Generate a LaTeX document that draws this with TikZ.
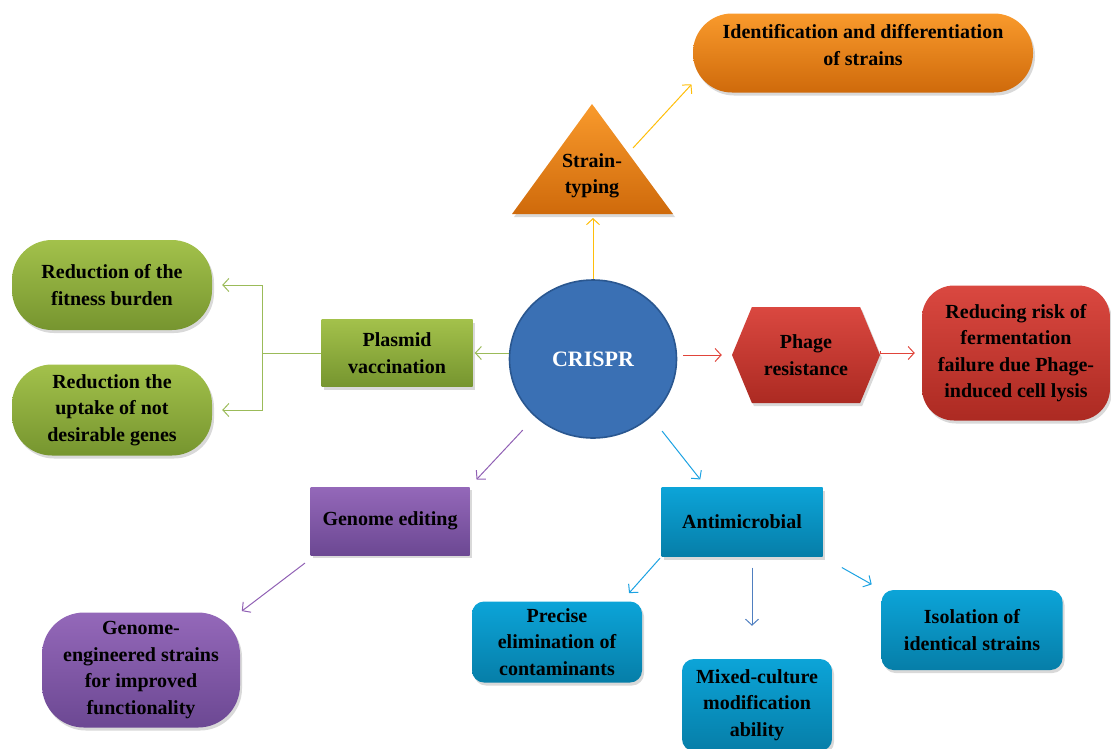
\documentclass[tikz,border=0pt]{standalone}
\usepackage{fontspec}
\setmainfont{Liberation Serif}
\usetikzlibrary{
		calc,
		positioning,
		arrows.meta,
		shapes.geometric,
		shapes.symbols,
		shadows
	}
\definecolor{orTop}{HTML}{F99A2C}
\definecolor{orBot}{HTML}{CF6A0B}
\definecolor{grTop}{HTML}{A3C14B}
\definecolor{grBot}{HTML}{76952F}
\definecolor{rdTop}{HTML}{DA4840}
\definecolor{rdBot}{HTML}{AC2A22}
\definecolor{puTop}{HTML}{9468B9}
\definecolor{puBot}{HTML}{6C4893}
\definecolor{cyTop}{HTML}{0CA4D8}
\definecolor{cyBot}{HTML}{067EA8}
\definecolor{hubFill}{HTML}{3A70B4}
\definecolor{hubLine}{HTML}{2A5790}
\definecolor{lnYellow}{HTML}{FFBE0A}
\definecolor{lnGreen}{HTML}{9BBB59}
\definecolor{lnRed}{HTML}{E0443A}
\definecolor{lnPurple}{HTML}{9060B4}
\definecolor{lnCyan}{HTML}{1CA2E2}
\definecolor{lnBlue}{HTML}{4F7FC0}
\tikzset{
		>={Straight Barb[length=6pt,width=13pt]},
		lbl/.style={font=\bfseries\fontsize{20}{26.5}\selectfont, align=center, text=black},
		card/.style 2 args={lbl, top color=#1, bottom color=#2, draw=none,
			drop shadow={shadow xshift=2pt, shadow yshift=-3pt, opacity=.3}},
		hub/.style={ellipse, fill=hubFill, draw=hubLine, line width=1.6pt,
			minimum width=167pt, minimum height=158pt,
			font=\bfseries\fontsize{22}{26}\selectfont, text=white},
		link/.style={->, line width=1pt}
	}

\begin{document}
\begin{tikzpicture}[x=1pt, y=-1pt] % y runs downwards, one unit = one pixel of the layout
	\useasboundingbox (0,0) rectangle (1111,748);
	% centre
	\node[hub] (crispr) at (593,359) {CRISPR};
	% strain typing (top)
	\path[card={orTop}{orBot}] (512,214) -- (592,104) -- (673,214) -- cycle;
	\node[lbl] (strain) at (592,176) {Strain-\\typing};
	\coordinate (strainbase) at (593,214);
	\coordinate (strainside) at (633,148);
	\node[card={orTop}{orBot}, rounded corners=39pt, minimum width=340pt, minimum height=79pt, text depth=16pt]
		(ident) at (863,53) {Identification and differentiation\\of strains};
	% plasmid vaccination (left)
	\node[card={grTop}{grBot}, minimum width=151pt, minimum height=67pt]
		(plasmid) at (397,353) {Plasmid\\vaccination};
	\node[card={grTop}{grBot}, rounded corners=40pt, minimum width=200pt, minimum height=90pt]
		(fitness) at (112,285) {Reduction of the\\fitness burden};
	\node[card={grTop}{grBot}, rounded corners=40pt, minimum width=200pt, minimum height=91pt, inner sep=1pt]
		(uptake) at (112,410) {Reduction the\\uptake of not\\desirable genes};
	\coordinate (fork) at (262,353);
	% phage resistance (right)
	\node[card={rdTop}{rdBot}, signal, signal to=east and west, signal pointer angle=135,
		minimum width=148pt, minimum height=96pt, inner xsep=1pt]
		(phage) at (806,355) {Phage\\resistance};
	\node[card={rdTop}{rdBot}, rounded corners=32pt, minimum width=188pt, minimum height=135pt]
		(lysis) at (1016,353) {Reducing risk of\\fermentation\\failure due Phage-\\induced cell lysis};
	% genome editing (lower left)
	\node[card={puTop}{puBot}, minimum width=159pt, minimum height=68pt]
		(genome) at (390,521) {Genome editing};
	\node[card={puTop}{puBot}, rounded corners=42pt, minimum width=198pt, minimum height=115pt, inner sep=1pt]
		(engineered) at (141,670) {Genome-\\engineered strains\\for improved\\functionality};
	% antimicrobial (lower right)
	\node[card={cyTop}{cyBot}, minimum width=161pt, minimum height=69pt]
		(antimic) at (742,522) {Antimicrobial};
	\node[card={cyTop}{cyBot}, rounded corners=12pt, minimum width=170pt, minimum height=81pt, inner sep=0pt]
		(precise) at (557,642) {Precise\\elimination of\\contaminants};
	\node[card={cyTop}{cyBot}, rounded corners=12pt, minimum width=150pt, minimum height=92pt, inner sep=0pt]
		(mixed) at (757,705) {Mixed-culture\\modification\\ability};
	\node[card={cyTop}{cyBot}, rounded corners=12pt, minimum width=181pt, minimum height=80pt]
		(isolation) at (972,630) {Isolation of\\identical strains};

	% connectors
	\draw[link, lnYellow, shorten >=4pt] (crispr.north) -- (strainbase);
	\draw[link, lnYellow, shorten >=2pt] (strainside) -- (ident.190);
	\draw[link, lnGreen, shorten >=2pt] (crispr.west |- plasmid.east) -- (plasmid.east);
	\draw[lnGreen, line width=1pt] (plasmid.west) -- (fork);
	\draw[link, lnGreen, shorten >=10pt] (fork) |- (fitness.east);
	\draw[link, lnGreen, shorten >=10pt] (fork) |- (uptake.east);
	\draw[link, lnRed, shorten <=6pt, shorten >=10pt] (crispr.east |- phage.west) -- (phage.west);
	\draw[link, lnRed, shorten <=4pt, shorten >=7pt] (phage.east) -- (lysis.west -| phage.east) -- (lysis.west);
	\draw[link, lnPurple, shorten <=18pt, shorten >=10pt] (crispr.225) -- (genome.north east);
	\draw[link, lnPurple, shorten <=13pt, shorten >=2pt] ([xshift=5pt]genome.south west) -- (engineered.north east);
	\draw[link, lnCyan, shorten <=18pt, shorten >=10pt] (crispr.-45) -- ($(antimic.north west)!.28!(antimic.north east)$);
	\draw[link, lnCyan, shorten <=2pt, shorten >=11pt] (antimic.south west) -- ($(precise.north east)!.12!(precise.north west)$);
	\draw[link, lnBlue, shorten <=11pt, shorten >=33pt] ([xshift=10pt]antimic.south) -- ([xshift=-5pt]mixed.north);
	\draw[link, lnCyan, shorten <=22pt, shorten >=11pt] (antimic.south east) -- (isolation.north west);
\end{tikzpicture}
\end{document}
